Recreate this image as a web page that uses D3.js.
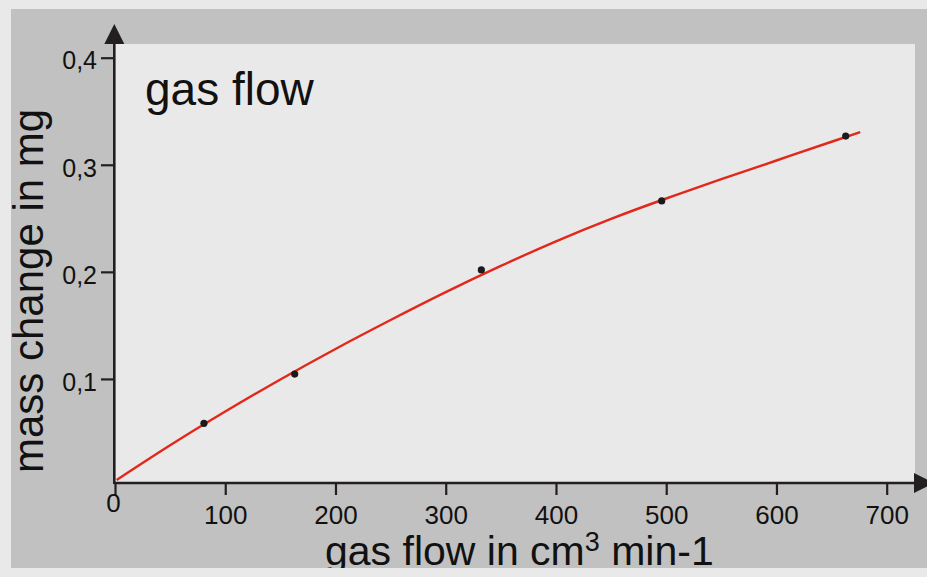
<!DOCTYPE html>
<html>
<head>
<meta charset="utf-8">
<script src="https://cdn.jsdelivr.net/npm/d3@7"></script>
<style>
  html, body { margin: 0; padding: 0; background: #e9e9e9; }
  svg { display: block; font-family: "Liberation Sans", Arial, Helvetica, sans-serif; }
</style>
</head>
<body>
<svg id="chart" width="927" height="577"></svg>
<script>
// Measured mass change vs. gas flow
const flowMeasured = [80.7, 163, 332.3, 495.9, 662.8];
const massMeasured = [0.0585, 0.1045, 0.2018, 0.2662, 0.3268];

// Fitted trend curve, sampled along the flow axis
const flowFit = [1.5, 50, 100, 150, 200, 250, 300, 350, 400, 450, 500, 550, 600, 650, 676];
const massFit = [0.0056, 0.038, 0.0695, 0.0995, 0.128, 0.155, 0.181, 0.2055, 0.2285, 0.2495, 0.2685, 0.2865, 0.304, 0.3215, 0.3305];

// Axis ticks
const xTicks = [0, 100, 200, 300, 400, 500, 600, 700];
const yTicks = [0.1, 0.2, 0.3, 0.4];

const titleText = "gas flow";
const yLabel = "mass change in mg";

const svg = d3.select("#chart");

const panel = { x0: 11, y0: 9, x1: 927, y1: 568 };
const plot = { left: 115, top: 44, right: 915, bottom: 483 };

const x = d3.scaleLinear().domain([0, 700]).range([115, 886.7]);
const y = d3.scaleLinear().domain([0, 0.4]).range([486, 57.7]);

// clip everything to the grey panel
svg.append("clipPath").attr("id", "panelClip")
  .append("rect")
  .attr("x", panel.x0).attr("y", panel.y0)
  .attr("width", panel.x1 - panel.x0).attr("height", panel.y1 - panel.y0);

const g = svg.append("g").attr("clip-path", "url(#panelClip)");

g.append("rect")
  .attr("x", panel.x0).attr("y", panel.y0)
  .attr("width", panel.x1 - panel.x0).attr("height", panel.y1 - panel.y0)
  .attr("fill", "#c1c1c1");

g.append("rect")
  .attr("x", plot.left).attr("y", plot.top)
  .attr("width", plot.right - plot.left).attr("height", plot.bottom - plot.top)
  .attr("fill", "#e9e9e9");

const axisColor = "#231f20";

// Fitted curve
const fitData = flowFit.map((f, i) => ({ f, m: massFit[i] }));
g.append("path")
  .datum(fitData)
  .attr("fill", "none")
  .attr("stroke", "#e2281b")
  .attr("stroke-width", 2.4)
  .attr("d", d3.line().x(d => x(d.f)).y(d => y(d.m)).curve(d3.curveNatural));

// Measured points
g.selectAll("circle.pt")
  .data(flowMeasured.map((f, i) => ({ f, m: massMeasured[i] })))
  .join("circle")
  .attr("class", "pt")
  .attr("cx", d => x(d.f))
  .attr("cy", d => y(d.m))
  .attr("r", 3.6)
  .attr("fill", "#1a1a1a");

// X axis (ticks hang below the baseline)
const xAxis = d3.axisBottom(x)
  .tickValues(xTicks)
  .tickSize(12)
  .tickPadding(11)
  .tickFormat(d3.format("d"));

const xg = g.append("g")
  .attr("transform", `translate(0,${plot.bottom})`)
  .call(xAxis);
xg.select(".domain").remove();
xg.selectAll(".tick line").attr("stroke", axisColor).attr("stroke-width", 2.2);
xg.selectAll(".tick text")
  .attr("fill", "#111")
  .attr("font-size", 26)
  .attr("font-family", "'Liberation Sans', Arial, sans-serif");
xg.selectAll(".tick").filter(d => d === 0).select("text")
  .attr("x", -2).attr("dy", "0.71em").attr("y", 11);

// Y axis (ticks to the left)
const yAxis = d3.axisLeft(y)
  .tickValues(yTicks)
  .tickSize(14)
  .tickPadding(4)
  .tickFormat(d => d3.format(".1f")(d).replace(".", ","));

const yg = g.append("g")
  .attr("transform", `translate(${plot.left},0)`)
  .call(yAxis);
yg.select(".domain").remove();
yg.selectAll(".tick line").attr("stroke", axisColor).attr("stroke-width", 2.2);
yg.selectAll(".tick text")
  .attr("fill", "#111")
  .attr("font-size", 25)
  .attr("dy", "0.45em")
  .attr("font-family", "'Liberation Sans', Arial, sans-serif");

// Axis lines with arrow heads
g.append("line")
  .attr("x1", plot.left - 1).attr("x2", plot.right)
  .attr("y1", plot.bottom).attr("y2", plot.bottom)
  .attr("stroke", axisColor).attr("stroke-width", 2.6);
g.append("line")
  .attr("x1", plot.left - 0.7).attr("x2", plot.left - 0.7)
  .attr("y1", plot.bottom + 1).attr("y2", plot.top)
  .attr("stroke", axisColor).attr("stroke-width", 2.6);

g.append("path")
  .attr("d", `M${plot.left - 10.7},${plot.top} L${plot.left + 9.3},${plot.top} L${plot.left - 0.7},${plot.top - 20} Z`)
  .attr("fill", axisColor);
g.append("path")
  .attr("d", `M${plot.right - 1},${plot.bottom - 10} L${plot.right - 1},${plot.bottom + 10} L${plot.right + 19},${plot.bottom} Z`)
  .attr("fill", axisColor);

// Title inside the plot
g.append("text")
  .attr("x", 145).attr("y", 105)
  .attr("font-size", 46)
  .attr("fill", "#111")
  .text(titleText);

// Y axis label
g.append("text")
  .attr("transform", "translate(43,473) rotate(-90)")
  .attr("font-size", 42)
  .attr("fill", "#111")
  .text(yLabel);

// X axis label with superscript
const xl = g.append("text")
  .attr("x", 325).attr("y", 565)
  .attr("font-size", 41)
  .attr("fill", "#111");
xl.append("tspan").text("gas flow in cm");
xl.append("tspan").attr("font-size", 27).attr("dy", -14).text("3");
xl.append("tspan").attr("dy", 14).text(" min-1");
</script>
</body>
</html>
